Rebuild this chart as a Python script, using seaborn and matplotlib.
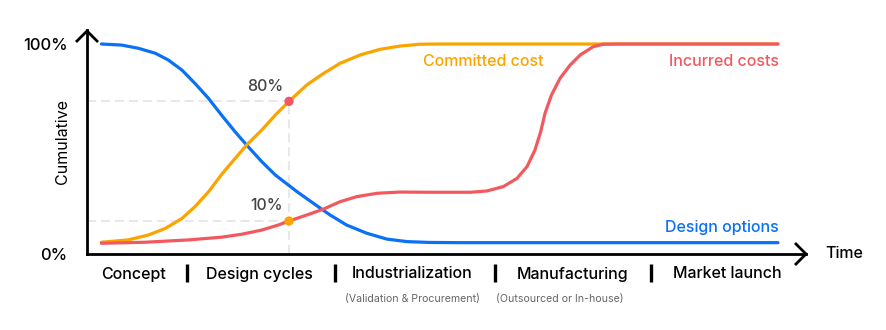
import matplotlib
matplotlib.use("Agg")
import matplotlib.pyplot as plt
import seaborn as sns
import pandas as pd
from matplotlib.transforms import Affine2D

# --- data (time on a 0-100 scale, cumulative share in %) ---
options_t = [2.0, 4.8, 7.1, 9.5, 11.3, 13.2, 15.0, 16.9, 18.7, 20.6, 22.2, 24.3,
             26.2, 29.2, 31.5, 33.8, 36.1, 38.9, 41.7, 44.5, 47.7, 51.9, 96.1]
options_v = [100.0, 99.5, 98.0, 95.6, 92.4, 87.6, 81.3, 74.1, 66.2, 58.2, 51.9, 44.0,
             37.6, 29.7, 24.1, 18.6, 13.8, 9.9, 7.1, 5.9, 5.5, 5.4, 5.4]

committed_t = [2.0, 5.7, 8.5, 10.9, 13.2, 15.0, 16.9, 18.7, 20.6, 22.2, 24.3, 26.2,
               28.1, 30.6, 32.9, 35.2, 38.0, 40.8, 43.5, 46.3, 49.1, 96.1]
committed_v = [5.6, 6.7, 9.0, 12.2, 16.9, 22.5, 29.6, 37.8, 45.5, 51.9, 59.0, 66.2,
               72.7, 80.6, 86.0, 90.8, 94.8, 97.5, 99.0, 99.9, 100.0, 100.0]

incurred_t = [2.0, 8.1, 14.1, 18.7, 21.5, 24.3, 26.6, 28.1, 30.6, 32.9, 35.2, 37.5,
              40.3, 43.5, 47.7, 53.3, 55.6, 57.9, 59.8, 61.2, 62.3, 63.1, 63.7, 64.6,
              65.8, 67.2, 68.6, 70.4, 71.8, 74.1, 96.1]
incurred_v = [5.1, 5.6, 6.7, 8.0, 9.4, 11.4, 13.8, 15.7, 18.6, 21.4, 24.9, 27.3,
              28.9, 29.5, 29.4, 29.4, 30.0, 32.1, 36.0, 41.6, 49.5, 58.2, 67.0, 75.7,
              83.7, 90.0, 94.8, 98.7, 99.9, 100.0, 100.0]

series_names = ["Design options", "Committed cost", "Incurred costs"]
series_colors = ["#0a70f5", "#fba400", "#f2595f"]

# end of the design cycles: share of committed and incurred cost
milestone_t = 28.1
milestone_committed = 72.7
milestone_incurred = 15.7
milestone_labels = ["80%", "10%"]

phases = ["Concept", "Design cycles", "Industrialization", "Manufacturing", "Market launch"]
phase_centers = [6.5, 24.0, 45.2, 67.5, 89.0]
phase_bounds = [13.9, 34.5, 56.7, 78.4]
phase_notes = ["(Validation & Procurement)", "(Outsourced or In-house)"]
phase_note_x = [45.3, 65.8]

frames = []
for name, t, v in [(series_names[0], options_t, options_v),
                   (series_names[1], committed_t, committed_v),
                   (series_names[2], incurred_t, incurred_v)]:
    frames.append(pd.DataFrame({"time": t, "share": v, "series": name}))
df = pd.concat(frames, ignore_index=True)

sns.set_theme(style="white")
plt.rcParams["font.family"] = ["Inter", "DejaVu Sans"]
plt.rcParams["font.weight"] = "medium"

FS = 11.5
W, H = 887, 330
fig = plt.figure(figsize=(W / 100, H / 100), dpi=100)
ax = fig.add_axes([87 / W, 76 / H, (806 - 87) / W, (254 - 30) / H])
ax.set_xlim(0, 100)
ax.set_ylim(0, 106.67)

# guide lines to the milestone points
guide = dict(color="#e8e8e8", lw=1.5, dashes=(4.3, 2.4), zorder=1)
ax.plot([0, milestone_t], [milestone_committed, milestone_committed], **guide)
ax.plot([0, milestone_t], [milestone_incurred, milestone_incurred], **guide)
ax.plot([milestone_t, milestone_t], [0, milestone_committed], **guide)

sns.lineplot(data=df, x="time", y="share", hue="series", hue_order=series_names,
             palette=series_colors, sort=False, estimator=None, linewidth=2.3,
             legend=False, ax=ax, zorder=3)

sns.scatterplot(x=[milestone_t, milestone_t], y=[milestone_committed, milestone_incurred],
                hue=["a", "b"], palette=[series_colors[2], series_colors[1]],
                s=45, linewidth=0, legend=False, ax=ax, zorder=4)

ax.text(milestone_t - 0.8, milestone_committed + 3.6, milestone_labels[0], ha="right",
        va="bottom", fontsize=FS, color="#444444")
ax.text(milestone_t - 0.8, milestone_incurred + 3.6, milestone_labels[1], ha="right",
        va="bottom", fontsize=FS, color="#444444")

# series labels
ax.text(63.5, 91.5, series_names[1], ha="right", va="center", fontsize=FS,
        color=series_colors[1])
ax.text(96.2, 91.5, series_names[2], ha="right", va="center", fontsize=FS,
        color=series_colors[2])
ax.text(96.2, 12.8, series_names[0], ha="right", va="center", fontsize=FS,
        color=series_colors[0])

# axes
for side in ["top", "right"]:
    ax.spines[side].set_visible(False)
for side in ["left", "bottom"]:
    ax.spines[side].set_linewidth(2.0)
    ax.spines[side].set_color("black")
    ax.spines[side].set_capstyle("projecting")

ax.set_yticks([0, 100], ["0%", "100%"])
ax.set_xticks(phase_centers, phases)
ax.tick_params(axis="y", length=0, pad=14, labelsize=12, labelcolor="black")
ax.tick_params(axis="x", length=0, pad=9, labelsize=FS, labelcolor="black")
ax.set_ylabel("Cumulative", fontsize=FS, color="black")
ax.yaxis.set_label_coords(-0.0236, 0.5)
ax.set_xlabel("")

for b in phase_bounds:
    ax.plot([b, b], [-4.8, -13.3], color="black", lw=2.4, clip_on=False,
            solid_capstyle="butt")

for note, x in zip(phase_notes, phase_note_x):
    ax.text(x, -21.5, note, ha="center", va="center", fontsize=7.6, color="#666666",
            fontweight="normal")

# arrow heads, drawn in pixel space (origin top-left)
pix = Affine2D().scale(1, -1).translate(0, H)
fig.add_artist(plt.Line2D([76, 87, 98], [42, 31, 42], transform=pix, color="black",
                          lw=2.0, solid_capstyle="butt", solid_joinstyle="miter"))
fig.add_artist(plt.Line2D([795, 806, 795], [243, 254, 265], transform=pix, color="black",
                          lw=2.0, solid_capstyle="butt", solid_joinstyle="miter"))
fig.text(825 / W, 1 - 254 / H, "Time", ha="left", va="center", fontsize=FS,
         color="black")

fig.savefig("out.png", dpi=100)
